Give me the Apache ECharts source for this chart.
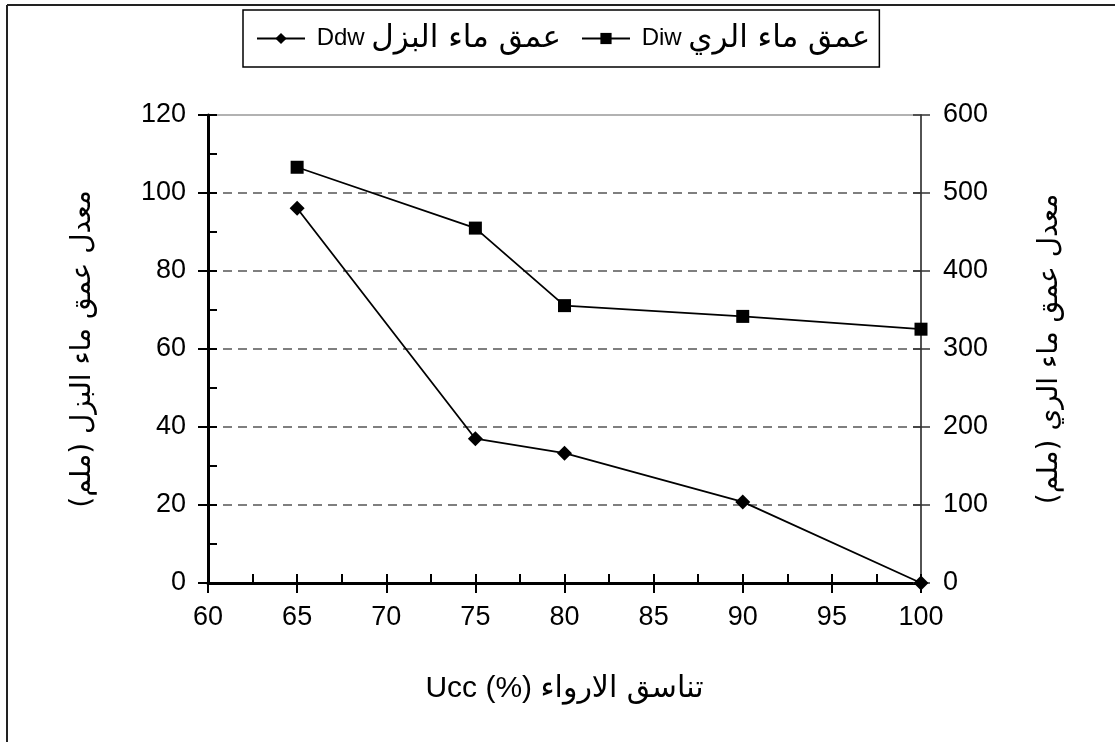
<!DOCTYPE html>
<html>
<head>
<meta charset="utf-8">
<script src="https://cdn.jsdelivr.net/npm/echarts@6/dist/echarts.min.js"></script>
<style>
  html, body { margin: 0; padding: 0; background: #fff; }
  #main { width: 1115px; height: 742px; }
</style>
</head>
<body>
<div id="main"></div>
<script>
// values
var ucc = [65, 75, 80, 90, 100];
var ddw = [96.1, 37, 33.3, 20.8, 0];          // left axis
var diw = [533, 455, 355.6, 341.8, 325.4];    // right axis
var seriesNames = ['Ddw عمق ماء البزل', 'Diw عمق ماء الري'];
var xTitleLatin = 'Ucc (%)';
var xTitleArabic = 'تناسق الارواء';
var leftTitle = 'معدل عمق ماء البزل (ملم)';
var rightTitle = 'معدل عمق ماء الري (ملم)';

var FONT = '"Liberation Sans", Arial, "DejaVu Sans", sans-serif';
var AR_FONT = '"DejaVu Sans", sans-serif';

function pairs(xs, ys) {
  return xs.map(function (x, i) { return [x, ys[i]]; });
}

var chart = echarts.init(document.getElementById('main'), null, { renderer: 'canvas' });

var tickHidden = { show: false };

var option = {
  backgroundColor: '#fff',
  animation: false,
  textStyle: { fontFamily: FONT, color: '#000' },
  graphic: [
    { type: 'line', shape: { x1: 7, y1: 5, x2: 1115, y2: 5 }, style: { stroke: '#222', lineWidth: 2 } },
    { type: 'line', shape: { x1: 7, y1: 5, x2: 7, y2: 742 }, style: { stroke: '#222', lineWidth: 2 } }
  ],
  legend: {
    left: 243,
    top: 10,
    orient: 'horizontal',
    data: seriesNames,
    itemWidth: 48,
    itemHeight: 14,
    itemGap: 20,
    padding: [13, 9, 13, 13],
    borderColor: '#000',
    borderWidth: 1.5,
    formatter: function (n) {
      var i = n.indexOf(' ');
      return '{l| ' + n.slice(0, i) + ' }{a|' + n.slice(i + 1) + '}';
    },
    textStyle: {
      fontFamily: FONT, fontSize: 24, color: '#000',
      rich: {
        l: { fontFamily: FONT, fontSize: 24, color: '#000', verticalAlign: 'middle' },
        a: { fontFamily: AR_FONT, fontSize: 31, color: '#000', verticalAlign: 'middle' }
      }
    }
  },
  grid: {
    left: 208, right: 194, top: 115, bottom: 159,
    containLabel: false,
    outerBoundsMode: 'none',
    show: true,
    borderColor: '#999',
    borderWidth: 1.5,
    backgroundColor: 'transparent'
  },
  xAxis: [
    {
      type: 'value', min: 60, max: 100, interval: 5,
      name: '{l|' + xTitleLatin + ' }{a|' + xTitleArabic + '}',
      nameLocation: 'middle', nameGap: 91,
      nameTextStyle: {
        fontFamily: FONT, fontSize: 28, color: '#000',
        rich: {
          l: { fontFamily: FONT, fontSize: 30, color: '#000', verticalAlign: 'middle' },
          a: { fontFamily: AR_FONT, fontSize: 30, color: '#000', verticalAlign: 'middle' }
        }
      },
      axisLine: { onZero: false, lineStyle: { color: '#000', width: 3 } },
      axisTick: { inside: true, length: 9, lineStyle: { color: '#000', width: 2 } },
      minorTick: { show: true, splitNumber: 2, length: 9, lineStyle: { color: '#000', width: 2 } },
      axisLabel: { fontFamily: FONT, fontSize: 27, color: '#000', margin: 21 },
      splitLine: { show: false }
    },
    {
      // outward half of the crossing ticks
      type: 'value', min: 60, max: 100, interval: 5, position: 'bottom',
      axisLine: { show: false },
      axisTick: { inside: false, length: 10, lineStyle: { color: '#000', width: 2 } },
      axisLabel: tickHidden, splitLine: { show: false }
    }
  ],
  yAxis: [
    {
      type: 'value', min: 0, max: 120, interval: 20, position: 'left',
      name: leftTitle, nameLocation: 'middle', nameRotate: 90, nameGap: 111,
      nameTextStyle: { fontFamily: AR_FONT, fontSize: 28, color: '#000' },
      axisLine: { show: true, onZero: false, lineStyle: { color: '#000', width: 3 } },
      axisTick: { show: true, inside: true, length: 9, lineStyle: { color: '#000', width: 2 } },
      minorTick: { show: true, splitNumber: 2, length: 9, lineStyle: { color: '#000', width: 2 } },
      axisLabel: { fontFamily: FONT, fontSize: 27, color: '#000', margin: 22 },
      splitLine: {
        show: true, showMinLine: false, showMaxLine: false,
        lineStyle: { color: '#555', width: 1.5, type: [9, 6] }
      }
    },
    {
      type: 'value', min: 0, max: 600, interval: 100, position: 'right',
      name: rightTitle, nameLocation: 'middle', nameRotate: 90, nameGap: 115,
      nameTextStyle: { fontFamily: AR_FONT, fontSize: 28, color: '#000' },
      axisLine: { show: true, onZero: false, lineStyle: { color: '#333', width: 1.5 } },
      axisTick: { show: true, inside: false, length: 9, lineStyle: { color: '#333', width: 1.5 } },
      axisLabel: { fontFamily: FONT, fontSize: 27, color: '#000', margin: 22 },
      splitLine: { show: false }
    },
    {
      type: 'value', min: 0, max: 120, interval: 20, position: 'left',
      axisLine: { show: false },
      axisTick: { show: true, inside: false, length: 10, lineStyle: { color: '#000', width: 2 } },
      axisLabel: tickHidden, splitLine: { show: false }
    },
    {
      type: 'value', min: 0, max: 600, interval: 100, position: 'right',
      axisLine: { show: false },
      axisTick: { show: true, inside: true, length: 8, lineStyle: { color: '#333', width: 1.5 } },
      axisLabel: tickHidden, splitLine: { show: false }
    }
  ],
  series: [
    {
      name: seriesNames[0],
      type: 'line',
      xAxisIndex: 0, yAxisIndex: 0,
      data: pairs(ucc, ddw),
      symbol: 'diamond', symbolSize: 15,
      lineStyle: { color: '#000', width: 1.8 },
      itemStyle: { color: '#000' },
      z: 5
    },
    {
      name: seriesNames[1],
      type: 'line',
      xAxisIndex: 0, yAxisIndex: 1,
      data: pairs(ucc, diw),
      symbol: 'rect', symbolSize: 13,
      lineStyle: { color: '#000', width: 1.8 },
      itemStyle: { color: '#000' },
      z: 5
    }
  ]
};

chart.setOption(option);
</script>
</body>
</html>
